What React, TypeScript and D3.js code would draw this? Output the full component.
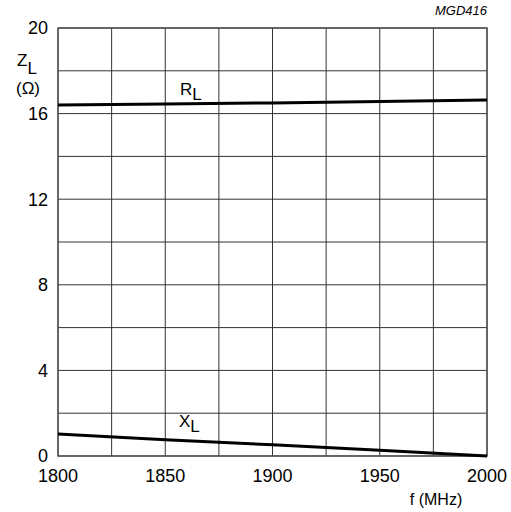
import React from 'react'
import * as d3 from 'd3'

// frequency (MHz) and impedance (ohm)
const freq = [1800, 1850, 1900, 1950, 2000]
const rl = [16.4, 16.45, 16.5, 16.57, 16.63]
const xl = [1.03, 0.76, 0.52, 0.27, 0.0]
const xTicks = [1800, 1850, 1900, 1950, 2000]
const yTicks = [0, 4, 8, 12, 16, 20]

const App = () => {
  const width = 511
  const height = 512
  const left = 58, right = 487, top = 28, bottom = 456
  const font = 'Arial, "Liberation Sans", sans-serif'

  const x = d3.scaleLinear().domain([1800, 2000]).range([left, right])
  const y = d3.scaleLinear().domain([0, 20]).range([bottom, top])

  const line = d3.line<number>()
    .x((d, i) => x(freq[i]))
    .y(d => y(d))

  const vGrid = d3.range(1800, 2001, 25)
  const hGrid = d3.range(0, 21, 2)

  return (
    <svg width={width} height={height} style={{ position: 'absolute', left: 0, top: 0 }}>
      <rect width={width} height={height} fill="#fff" />
      {vGrid.map(v => (
        <line key={'v' + v} x1={x(v)} x2={x(v)} y1={top} y2={bottom} stroke="#333" strokeWidth={1} />
      ))}
      {hGrid.map(v => (
        <line key={'h' + v} x1={left} x2={right} y1={y(v)} y2={y(v)} stroke="#333" strokeWidth={1} />
      ))}
      <rect x={left} y={top} width={right - left} height={bottom - top} fill="none" stroke="#555" strokeWidth={1.5} />

      <path d={line(rl) ?? ''} fill="none" stroke="#000" strokeWidth={3} />
      <path d={line(xl) ?? ''} fill="none" stroke="#000" strokeWidth={3} />

      {yTicks.map(v => (
        <text key={'yt' + v} x={48} y={y(v)} dy="0.35em" textAnchor="end" fontFamily={font} fontSize={18}>{v}</text>
      ))}
      {xTicks.map(v => (
        <text key={'xt' + v} x={x(v)} y={482} textAnchor="middle" fontFamily={font} fontSize={18}>{v}</text>
      ))}

      <text x={17} y={66} fontFamily={font} fontSize={17}>Z<tspan dy={8}>L</tspan></text>
      <text x={16} y={94} fontFamily={font} fontSize={17}>(Ω)</text>
      <text x={436} y={505} textAnchor="middle" fontFamily={font} fontSize={16}>f (MHz)</text>

      <text x={180} y={95} fontFamily={font} fontSize={17}>R<tspan dy={5}>L</tspan></text>
      <text x={179} y={427} fontFamily={font} fontSize={17}>X<tspan dy={5}>L</tspan></text>

      <text x={487} y={15} textAnchor="end" fontFamily={font} fontSize={13} fontStyle="italic">MGD416</text>
    </svg>
  )
}

export default App
